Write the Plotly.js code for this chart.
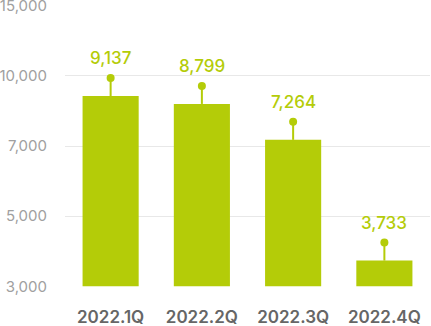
<!DOCTYPE html>
<html>
<head>
<meta charset="utf-8">
<script src="https://cdn.plot.ly/plotly-3.0.1.min.js"></script>
<style>html,body{margin:0;padding:0;background:#fff;}#chart{width:431px;height:326px;}</style>
</head>
<body>
<div id="chart"></div>
<script>
// Data
const categories = ['2022.1Q', '2022.2Q', '2022.3Q', '2022.4Q'];
const values = [9137, 8799, 7264, 3733];
const tickValuesRaw = [3000, 5000, 7000, 10000, 15000];
const tickLabels = ['3,000', '5,000', '7,000', '10,000', '15,000'];

// Piecewise axis: ticks evenly spaced, linear between ticks
function toAxis(v) {
  for (let i = 0; i < tickValuesRaw.length - 1; i++) {
    const a = tickValuesRaw[i], b = tickValuesRaw[i + 1];
    if (v <= b || i === tickValuesRaw.length - 2) return i + (v - a) / (b - a);
  }
}
const barY = values.map(toAxis);
const tickPos = tickValuesRaw.map(toAxis);
const stem = 18 / 70; // stem length in axis units (~18px)
const labels = values.map(v => v.toLocaleString('en-US'));

const green = '#b4cc08';

const bars = {
  type: 'bar', x: categories, y: barY,
  marker: {color: green}, hoverinfo: 'skip', width: 0.615
};
const dotY = barY.map(v => v + stem);
const dots = {
  type: 'scatter', mode: 'markers', x: categories, y: dotY,
  marker: {color: green, size: 8},
  error_y: {type: 'data', symmetric: false, array: barY.map(() => 0), arrayminus: barY.map(() => stem),
            color: green, thickness: 2, width: 0},
  hoverinfo: 'skip', cliponaxis: false
};

const annotations = categories.map((c, i) => ({
  x: c, y: dotY[i], xref: 'x', yref: 'y', text: labels[i], showarrow: false,
  yshift: 20, font: {family: 'Inter, sans-serif', size: 17, color: green, weight: 500}
}));

const pad = 0.01;
const layout = {
  width: 431, height: 326,
  margin: {l: 65, r: 1, t: 6 - 70 * pad, b: 40 - 70 * pad},
  showlegend: false,
  paper_bgcolor: '#fff', plot_bgcolor: '#fff',
  font: {family: 'Inter, sans-serif'},
  annotations: annotations,
  xaxis: {
    type: 'category', range: [-0.5, 3.5],
    showgrid: false, zeroline: false, showline: false,
    ticks: 'outside', ticklen: 15, tickcolor: 'rgba(0,0,0,0)',
    tickfont: {size: 17, color: '#666', weight: 600}
  },
  yaxis: {
    range: [-pad, 4 + pad], tickmode: 'array', tickvals: tickPos, ticktext: tickLabels,
    showgrid: true, gridcolor: '#e8e8e8', gridwidth: 1,
    zeroline: false, showline: false,
    ticks: 'outside', ticklen: 14, tickcolor: 'rgba(0,0,0,0)',
    ticklabeloverflow: 'allow',
    tickfont: {size: 15, color: '#a0a0a0'}
  }
};

Plotly.newPlot('chart', [bars, dots], layout, {displayModeBar: false, staticPlot: true});
</script>
</body>
</html>
